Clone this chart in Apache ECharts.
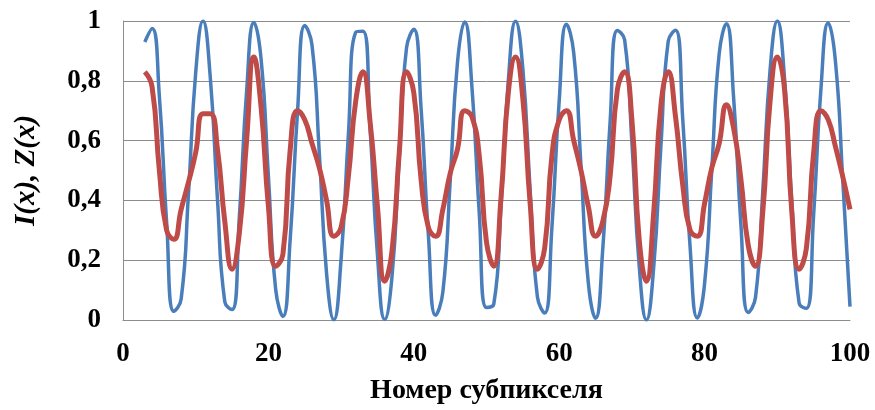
<!DOCTYPE html>
<html>
<head>
<meta charset="utf-8">
<script src="https://cdn.jsdelivr.net/npm/echarts@6/dist/echarts.min.js"></script>
<style>
  html, body { margin: 0; padding: 0; background: #fff; }
  #chart { width: 875px; height: 410px; }
</style>
</head>
<body>
<div id="chart"></div>
<script>
// номер первого субпикселя
const xStart = 3
const xTicks = [0, 20, 40, 60, 80, 100]
const yTicks = [0, 0.2, 0.4, 0.6, 0.8, 1]

// I(x) - синяя кривая, x = 3..100
const intensity = [
  0.93, 0.975, 0.749, 0.327, 0.029, 0.070, 0.420, 0.827, 1.0, 0.813,
  0.402, 0.061, 0.035, 0.343, 0.764, 0.995, 0.871, 0.480, 0.103, 0.012,
  0.271, 0.694, 0.985, 0.919, 0.559, 0.156, 0.001, 0.204, 0.619, 0.962,
  0.966, 0.635, 0.218, 0.002, 0.145, 0.542, 0.910, 0.972, 0.709, 0.286,
  0.016, 0.094, 0.463, 0.859, 0.997, 0.778, 0.359, 0.042, 0.053, 0.386,
  0.800, 0.999, 0.840, 0.436, 0.078, 0.023, 0.311, 0.733, 0.989, 0.893,
  0.514, 0.126, 0.006, 0.240, 0.662, 0.968, 0.937, 0.593, 0.183, 0.0,
  0.177, 0.586, 0.933, 0.969, 0.669, 0.246, 0.007, 0.122, 0.507, 0.889,
  0.991, 0.740, 0.317, 0.025, 0.075, 0.429, 0.834, 1.0, 0.806, 0.392,
  0.057, 0.039, 0.352, 0.772, 0.993, 0.864, 0.470, 0.045
]

// Z(x) - красная кривая, x = 3..100
const zValues = [
  0.83, 0.78, 0.50, 0.30, 0.27, 0.37, 0.46, 0.56, 0.69, 0.69,
  0.57, 0.33, 0.17, 0.29, 0.60, 0.88, 0.71, 0.38, 0.18, 0.22,
  0.57, 0.70, 0.67, 0.59, 0.51, 0.40, 0.28, 0.31, 0.48, 0.73,
  0.83, 0.66, 0.38, 0.13, 0.23, 0.56, 0.83, 0.76, 0.47, 0.31,
  0.28, 0.37, 0.49, 0.57, 0.70, 0.68, 0.55, 0.26, 0.18, 0.41,
  0.76, 0.88, 0.74, 0.39, 0.17, 0.24, 0.55, 0.67, 0.70, 0.60,
  0.50, 0.38, 0.28, 0.33, 0.48, 0.77, 0.83, 0.67, 0.27, 0.13,
  0.36, 0.72, 0.83, 0.68, 0.45, 0.30, 0.28, 0.39, 0.51, 0.59,
  0.72, 0.64, 0.47, 0.25, 0.18, 0.36, 0.73, 0.88, 0.77, 0.36,
  0.17, 0.24, 0.56, 0.70, 0.67, 0.58, 0.48, 0.37
]

const toPoints = arr => arr.map((v, i) => [xStart + i, v])
const font = 'Liberation Serif'
const gridColor = '#8c8c8c'

const myChart = echarts.init(document.getElementById('chart'))
myChart.setOption({
  animation: false,
  grid: { left: 123, right: 25, top: 21, bottom: 89 },
  xAxis: {
    type: 'value',
    min: xTicks[0],
    max: xTicks[xTicks.length - 1],
    interval: xTicks[1] - xTicks[0],
    name: 'Номер субпикселя',
    nameLocation: 'middle',
    nameGap: 57,
    nameTextStyle: { fontFamily: font, fontWeight: 'bold', fontSize: 28, color: '#000' },
    axisLine: { lineStyle: { color: gridColor } },
    axisTick: { show: false },
    splitLine: { show: false },
    axisLabel: { fontFamily: font, fontWeight: 'bold', fontSize: 27, color: '#000', margin: 21 }
  },
  yAxis: {
    type: 'value',
    min: yTicks[0],
    max: yTicks[yTicks.length - 1],
    interval: 0.2,
    name: 'I(x), Z(x)',
    nameLocation: 'middle',
    nameGap: 82,
    nameTextStyle: { fontFamily: font, fontWeight: 'bold', fontStyle: 'italic', fontSize: 29, color: '#000' },
    axisLine: { show: true, lineStyle: { color: gridColor } },
    axisTick: { show: false },
    splitLine: { lineStyle: { color: gridColor, width: 1 } },
    axisLabel: {
      fontFamily: font, fontWeight: 'bold', fontSize: 27, color: '#000', margin: 22,
      formatter: v => String(Math.round(v * 10) / 10).replace('.', ',')
    }
  },
  series: [
    {
      type: 'line',
      data: toPoints(intensity),
      smooth: 0.5,
      symbol: 'none',
      lineStyle: { color: '#4a7ebb', width: 3.5 }
    },
    {
      type: 'line',
      data: toPoints(zValues),
      smooth: 0.5,
      symbol: 'none',
      lineStyle: { color: '#be4b48', width: 5 }
    }
  ]
})
</script>
</body>
</html>
